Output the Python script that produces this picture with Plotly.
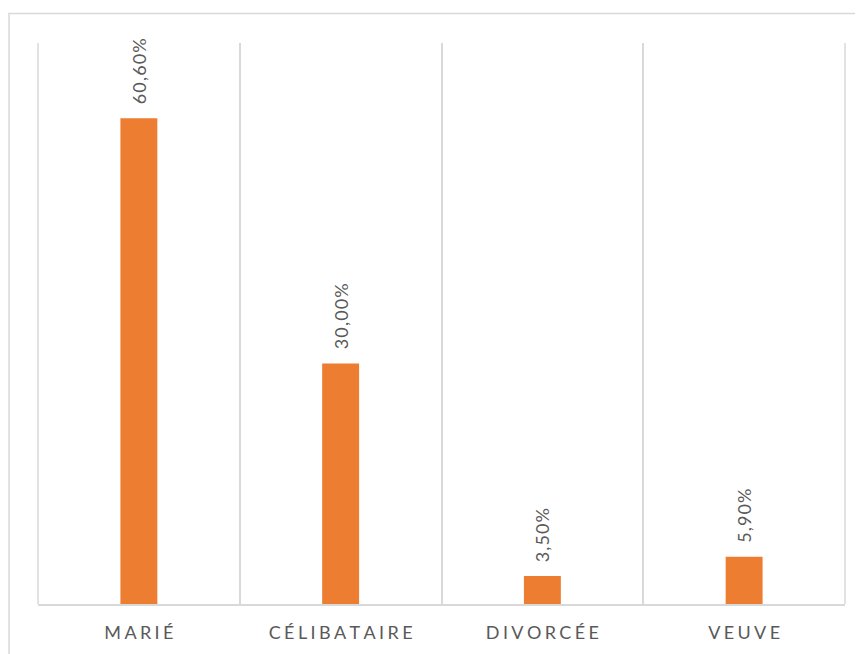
import plotly.graph_objects as go

categories = ["MARIÉ", "CÉLIBATAIRE", "DIVORCÉE", "VEUVE"]
values = [60.6, 30.0, 3.5, 5.9]
labels = ["60,60%", "30,00%", "3,50%", "5,90%"]

BAR_COLOR = "#ED7D31"
TEXT_COLOR = "#595959"
GRID_COLOR = "#D9D9D9"
FONT = "Lato, 'Open Sans', sans-serif"


def spaced(s, sep="\u2009\u200a"):
    # Excel-style letter spacing
    return sep.join(list(s))


fig = go.Figure(go.Bar(
    x=categories,
    y=values,
    marker=dict(color=BAR_COLOR, line=dict(width=0)),
    width=0.183,
    hoverinfo="x+y",
))

for cat, val, lab in zip(categories, values, labels):
    fig.add_annotation(
        x=cat, y=val, text=spaced(lab, "\u200a"), textangle=-90,
        showarrow=False, yanchor="bottom", yshift=12,
        font=dict(family=FONT, size=18, color=TEXT_COLOR),
    )

fig.update_xaxes(
    type="category",
    tickson="boundaries",
    tickvals=categories,
    ticktext=[spaced(c) for c in categories],
    showgrid=True, gridcolor=GRID_COLOR, gridwidth=1.5,
    showline=True, linecolor=GRID_COLOR, linewidth=1.5,
    ticks="", ticklabelstandoff=12,
    tickfont=dict(family=FONT, size=18, color=TEXT_COLOR),
)
fig.update_yaxes(
    range=[0, 70], showgrid=False, showticklabels=False,
    zeroline=False, showline=False,
)

# outer edges of the plot area
for xe in (0, 1):
    fig.add_shape(type="line", xref="paper", yref="paper",
                  x0=xe, x1=xe, y0=0, y1=1,
                  line=dict(color=GRID_COLOR, width=1.5))

# outer chart border (runs off the right and bottom edges)
fig.add_shape(type="rect", xref="paper", yref="paper",
              x0=-0.0359, x1=1.1, y0=-0.2, y1=1.0526,
              line=dict(color=GRID_COLOR, width=1.5))

fig.update_layout(
    width=855, height=646,
    margin=dict(l=30, r=18, t=35, b=50),
    plot_bgcolor="white", paper_bgcolor="white",
    showlegend=False,
    font=dict(family=FONT),
)

fig.write_html("out.html")
